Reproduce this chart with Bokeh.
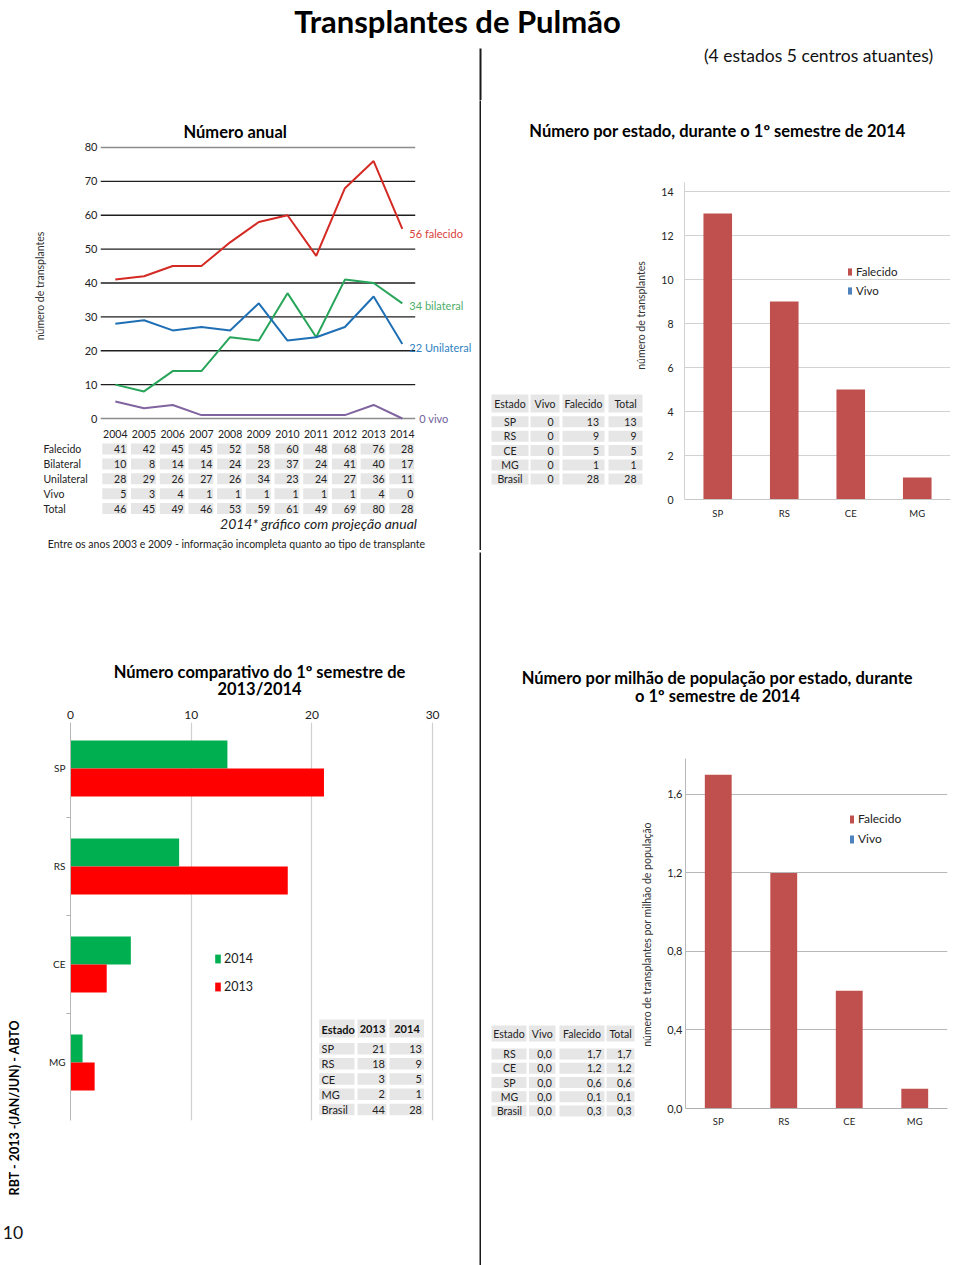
import math
from bokeh.plotting import figure
from bokeh.layouts import column, row
from bokeh.models import (Range1d, FactorRange, ColumnDataSource, Legend, LegendItem,
                          FixedTicker, CustomJSTickFormatter)
from bokeh.transform import dodge
from bokeh.core.properties import value
from bokeh.embed import file_html
from bokeh.resources import INLINE

# ---------------------------------------------------------------- data
years = [2004, 2005, 2006, 2007, 2008, 2009, 2010, 2011, 2012, 2013, 2014]
line_falecido = [41, 42, 45, 45, 52, 58, 60, 48, 68, 76, 56]
line_bilateral = [10, 8, 14, 14, 24, 23, 37, 24, 41, 40, 34]
line_unilateral = [28, 29, 26, 27, 26, 34, 23, 24, 27, 36, 22]
line_vivo = [5, 3, 4, 1, 1, 1, 1, 1, 1, 4, 0]
line_end_labels = ["56 falecido", "34 bilateral", "22 Unilateral", "0 vivo"]
annual_ticks = [0, 10, 20, 30, 40, 50, 60, 70, 80]

annual_rows = ["Falecido", "Bilateral", "Unilateral", "Vivo", "Total"]
tab_falecido = [41, 42, 45, 45, 52, 58, 60, 48, 68, 76, 28]
tab_bilateral = [10, 8, 14, 14, 24, 23, 37, 24, 41, 40, 17]
tab_unilateral = [28, 29, 26, 27, 26, 34, 23, 24, 27, 36, 11]
tab_vivo = [5, 3, 4, 1, 1, 1, 1, 1, 1, 4, 0]
tab_total = [46, 45, 49, 46, 53, 59, 61, 49, 69, 80, 28]

states = ["SP", "RS", "CE", "MG"]
state_falecido = [13, 9, 5, 1]
state_vivo = [0, 0, 0, 0]
state_ticks = [0, 2, 4, 6, 8, 10, 12, 14]
st_tab_headers = ["Estado", "Vivo", "Falecido", "Total"]
st_tab_estado = ["SP", "RS", "CE", "MG", "Brasil"]
st_tab_vivo = [0, 0, 0, 0, 0]
st_tab_falecido = [13, 9, 5, 1, 28]
st_tab_total = [13, 9, 5, 1, 28]

comp_2014 = [13, 9, 5, 1]
comp_2013 = [21, 18, 3, 2]
comp_ticks = [0, 10, 20, 30]
comp_tab_headers = ["Estado", "2013", "2014"]
comp_tab_estado = ["SP", "RS", "CE", "MG", "Brasil"]
comp_tab_2013 = [21, 18, 3, 2, 44]
comp_tab_2014 = [13, 9, 5, 1, 28]

pmp_falecido = [1.7, 1.2, 0.6, 0.1]
pmp_vivo = [0.0, 0.0, 0.0, 0.0]
pmp_ticks = [0.0, 0.4, 0.8, 1.2, 1.6]
pmp_tab_headers = ["Estado", "Vivo", "Falecido", "Total"]
pmp_tab_estado = ["RS", "CE", "SP", "MG", "Brasil"]
pmp_tab_vivo = [0.0, 0.0, 0.0, 0.0, 0.0]
pmp_tab_falecido = [1.7, 1.2, 0.6, 0.1, 0.3]
pmp_tab_total = [1.7, 1.2, 0.6, 0.1, 0.3]

# ---------------------------------------------------------------- style
FONT = "Lato"
INK = "#1a1a1a"
TXT = "#222222"
CELL = "#e6e6e6"
BAR_RED = "#c0504d"
BAR_BLUE = "#4f81bd"
GREEN = "#00b050"
RED = "#ff0000"


def comma(v):
    return f"{v:.1f}".replace(".", ",")


def page_fig(x0, x1, y0, y1):
    p = figure(width=x1 - x0, height=y1 - y0, x_range=Range1d(x0, x1),
               y_range=Range1d(y1, y0), title=None, toolbar_location=None,
               output_backend="svg", min_border=0, x_axis_type=None,
               y_axis_type=None, outline_line_color=None, frame_align=False)
    return p


def sep(w, h):
    p = figure(width=w, height=h, x_range=Range1d(0, 1), y_range=Range1d(0, 1),
               title=None, toolbar_location=None, output_backend="svg",
               min_border=0, x_axis_type=None, y_axis_type=None,
               outline_line_color=None, background_fill_color=INK,
               border_fill_color=INK, frame_align=False)
    return p


def put_text(p, xs, ys, texts, size, align="left", color=TXT, style="normal",
             angle=0.0, **kw):
    src = ColumnDataSource(dict(x=list(xs), y=list(ys), t=[str(t) for t in texts]))
    p.text(x="x", y="y", text="t", source=src, text_font=value(FONT),
           text_font_size=f"{size}px", text_align=align, text_baseline="middle",
           text_color=color, text_font_style=style, angle=angle, **kw)


def cells(p, bounds, ys, h, **kw):
    left, right, top, bottom = [], [], [], []
    for (a, b) in bounds:
        for y in ys:
            left.append(a); right.append(b)
            top.append(y - h / 2); bottom.append(y + h / 2)
    p.quad(left=left, right=right, top=top, bottom=bottom, fill_color=CELL,
           line_color=None, **kw)


def style_axis(ax, size):
    ax.major_label_text_font = FONT
    ax.major_label_text_font_size = f"{size}px"
    ax.major_label_text_color = TXT
    ax.major_tick_line_color = None
    ax.minor_tick_line_color = None
    ax.major_tick_out = 0
    ax.major_tick_in = 0


# ---------------------------------------------------------------- header
header = page_fig(0, 960, 0, 100)
put_text(header, [457], [20], ["Transplantes de Pulmão"], 31, "center", "#000000", "bold")
put_text(header, [818], [55], ["(4 estados 5 centros atuantes)"], 17.5, "center", "#111111")
header.segment(x0=[480], y0=[48], x1=[480], y1=[100], line_color=INK, line_width=2)

# ---------------------------------------------------------------- top-left: annual lines
x_start = years[0] - 0.516
tl = figure(width=479, height=326, x_range=Range1d(x_start, x_start + 375 / 28.7),
            y_range=Range1d(-2.36, 80.59), title="Número anual",
            toolbar_location=None, output_backend="svg", min_border_left=100,
            min_border_right=4, min_border_top=45, min_border_bottom=0,
            x_axis_type=None, outline_line_color=None, frame_align=False)
tl.title.text_font = FONT
tl.title.text_font_size = "16.5px"
tl.title.text_font_style = "bold"
tl.title.text_color = "#000000"
tl.title.align = "left"
tl.title.offset = 83
tl.title.standoff = 7
tl.ygrid.visible = False
ya = tl.yaxis[0]
ya.ticker = FixedTicker(ticks=annual_ticks)
style_axis(ya, 11)
ya.axis_line_color = None
ya.major_label_standoff = 3
ya.axis_label = "número de transplantes"
ya.axis_label_text_font = FONT
ya.axis_label_text_font_size = "10.5px"
ya.axis_label_text_font_style = "normal"
ya.axis_label_text_color = "#333333"
ya.axis_label_standoff = 36

gcol = ["#8c8c8c" if t in (annual_ticks[0], annual_ticks[-1]) else "#1e1e1e" for t in annual_ticks]
gsrc = ColumnDataSource(dict(y=annual_ticks, x0=[x_start] * len(annual_ticks),
                             x1=[years[-1] + 0.45] * len(annual_ticks), c=gcol))
tl.segment(x0="x0", y0="y", x1="x1", y1="y", line_color="c", line_width=1.4, source=gsrc)

series = [(line_falecido, "#d42a24", "#d9403a", 5, 7),
          (line_bilateral, "#28a55a", "#4fae6a", 2, 7),
          (line_unilateral, "#1f6fb5", "#2f7fc0", 4, 7),
          (line_vivo, "#80649f", "#6f5f99", 0, 17)]
for (vals, lc, tc, yoff, xoff), lab in zip(series, line_end_labels):
    tl.line(years, vals, line_color=lc, line_width=2)
    tl.text(x=[years[-1]], y=[vals[-1]], text=[lab], x_offset=xoff, y_offset=yoff,
            text_font=value(FONT), text_font_size="11px", text_color=tc,
            text_baseline="middle", text_align="left")

# annual table
tlt = page_fig(0, 479, 426, 550)
col_c = [114.8 + 28.7 * i for i in range(len(years))]
row_y = [448.5 + 14.9 * k for k in range(len(annual_rows))]
put_text(tlt, col_c, [433.5] * len(years), years, 10.5, "center")
put_text(tlt, [43] * len(annual_rows), row_y, annual_rows, 10.5, "left")
cells(tlt, [(c - 13, c + 12) for c in col_c], row_y, 11)
for vals, y in zip([tab_falecido, tab_bilateral, tab_unilateral, tab_vivo, tab_total], row_y):
    put_text(tlt, [c + 11 for c in col_c], [y] * len(vals), vals, 10.5, "right")
put_text(tlt, [318], [522.5], ["2014* gráfico com projeção anual"], 14, "center",
         TXT, "italic")
put_text(tlt, [236], [543.5],
         ["Entre os anos 2003 e 2009 - informação incompleta quanto ao tipo de transplante"],
         10.5, "center")

# ---------------------------------------------------------------- top-right: by state
trt = page_fig(481, 960, 100, 160)
put_text(trt, [717], [130.5], ["Número por estado, durante o 1º semestre de 2014"],
         16.5, "center", "#000000", "bold")

trl = page_fig(481, 650, 160, 550)
put_text(trl, [640], [315], ["número de transplantes"], 10.5, "center", "#333333",
         angle=math.pi / 2)
tr_bounds = [(491, 528), (530, 559), (562, 604), (608, 642)]
tr_rows = [421.3, 435.7, 450.0, 464.5, 478.5]
cells(trl, tr_bounds, [403], 18)
cells(trl, tr_bounds, tr_rows, 11)
put_text(trl, [(a + b) / 2 for a, b in tr_bounds], [403] * 4, st_tab_headers, 10.5, "center")
put_text(trl, [509.5] * 5, tr_rows, st_tab_estado, 10.5, "center")
put_text(trl, [553] * 5, tr_rows, st_tab_vivo, 10.5, "right")
put_text(trl, [598.5] * 5, tr_rows, st_tab_falecido, 10.5, "right")
put_text(trl, [636] * 5, tr_rows, st_tab_total, 10.5, "right")

trc = figure(width=310, height=390, x_range=FactorRange(*states),
             y_range=Range1d(0, 317 / 22), title=None, toolbar_location=None,
             output_backend="svg", min_border_left=34, min_border_right=10,
             min_border_top=22, min_border_bottom=51, outline_line_color=None,
             frame_align=False)
src_tr = ColumnDataSource(dict(x=states, f=state_falecido, v=state_vivo))
r_f = trc.vbar(x="x", top="f", width=0.43, source=src_tr, fill_color=BAR_RED, line_color=None)
r_v = trc.vbar(x="x", top="v", width=0.43, source=src_tr, fill_color=BAR_BLUE, line_color=None)
trc.xgrid.visible = False
trc.ygrid.ticker = FixedTicker(ticks=state_ticks)
trc.ygrid.grid_line_color = "#d2d2d2"
style_axis(trc.yaxis[0], 10.5)
trc.yaxis[0].ticker = FixedTicker(ticks=state_ticks)
trc.yaxis[0].major_label_standoff = 11
trc.yaxis[0].axis_line_color = "#d2d2d2"
style_axis(trc.xaxis[0], 9.5)
trc.xaxis[0].major_label_standoff = 8
trc.xaxis[0].axis_line_color = "#c8c8c8"
leg_tr = Legend(items=[LegendItem(label="Falecido", renderers=[r_f]),
                       LegendItem(label="Vivo", renderers=[r_v])],
                location=(163, 202), glyph_width=5, glyph_height=9, label_height=14,
                spacing=5, padding=0, margin=0, label_standoff=4,
                border_line_color=None, background_fill_alpha=0,
                label_text_font=FONT, label_text_font_size="11.5px",
                label_text_color=TXT)
trc.add_layout(leg_tr)

# ---------------------------------------------------------------- bottom-left: comparison
blt = page_fig(0, 479, 552, 700)
put_text(blt, [259, 259], [671, 688.5],
         ["Número comparativo do 1º semestre de", "2013/2014"], 16.5, "center",
         "#000000", "bold")

bls = page_fig(0, 30, 700, 1265)
put_text(bls, [13.5], [1107], ["RBT - 2013 -(JAN/JUN) - ABTO"], 12.5, "center",
         "#000000", "bold", angle=math.pi / 2)
put_text(bls, [12.5], [1232], ["10"], 17.5, "center", "#111111")

pos = [len(states) - i for i in range(len(states))]
blc = figure(width=449, height=565, x_range=Range1d(0, 375 / 12.07),
             y_range=Range1d(0.408, 4.469), x_axis_location="above", title=None,
             toolbar_location=None, output_backend="svg", min_border_left=40,
             min_border_right=34, min_border_top=22, min_border_bottom=145,
             outline_line_color=None, frame_align=False)
blc.extra_x_ranges = {"px": Range1d(70, 445)}
blc.extra_y_ranges = {"py": Range1d(1120, 722)}
src_bl = ColumnDataSource(dict(pos=pos, v14=comp_2014, v13=comp_2013))
r14 = blc.hbar(y=dodge("pos", 0.143), right="v14", left=0, height=0.286,
               source=src_bl, fill_color=GREEN, line_color=None)
r13 = blc.hbar(y=dodge("pos", -0.143), right="v13", left=0, height=0.286,
               source=src_bl, fill_color=RED, line_color=None)
blc.ygrid.visible = False
blc.xgrid.ticker = FixedTicker(ticks=comp_ticks)
blc.xgrid.grid_line_color = "#d0d0d0"
blc.xgrid.grid_line_width = 1.2
xa = blc.xaxis[0]
xa.ticker = FixedTicker(ticks=comp_ticks)
style_axis(xa, 12)
xa.axis_line_color = None
xa.major_label_standoff = 4
yb = blc.yaxis[0]
yb.ticker = FixedTicker(ticks=pos, minor_ticks=[p - 0.5 for p in pos[:-1]])
yb.major_label_overrides = {p: s for p, s in zip(pos, states)}
style_axis(yb, 10)
yb.minor_tick_line_color = "#b0b0b0"
yb.minor_tick_out = 4
yb.minor_tick_in = 0
yb.axis_line_color = "#b8b8b8"
yb.major_label_standoff = 1
leg_bl = Legend(items=[LegendItem(label="2014", renderers=[r14]),
                       LegendItem(label="2013", renderers=[r13])],
                location=(144, 126), glyph_width=7, glyph_height=11, label_height=14,
                spacing=13, padding=0, margin=0, label_standoff=3,
                border_line_color=None, background_fill_alpha=0,
                label_text_font=FONT, label_text_font_size="12.5px",
                label_text_color=TXT)
blc.add_layout(leg_bl)
# comparison table drawn inside the plot area (page-pixel extra ranges)
kw = dict(x_range_name="px", y_range_name="py")
bl_bounds = [(318.7, 354), (357, 386), (389, 423.5)]
bl_rows = [1048.3, 1063.3, 1078.5, 1093.7, 1109]
cells(blc, bl_bounds, [1028], 18, **kw)
cells(blc, bl_bounds, bl_rows, 11.5, **kw)
put_text(blc, [321], [1028.5], comp_tab_headers[:1], 11, "left", "#111111", "bold", **kw)
put_text(blc, [372, 406.5], [1028.5] * 2, comp_tab_headers[1:], 11, "center", "#111111",
         "bold", **kw)
put_text(blc, [321] * 5, bl_rows, comp_tab_estado, 11, "left", **kw)
put_text(blc, [384.5] * 5, bl_rows, comp_tab_2013, 11, "right", **kw)
put_text(blc, [421.5] * 5, bl_rows, comp_tab_2014, 11, "right", **kw)

# ---------------------------------------------------------------- bottom-right: per million
brt = page_fig(481, 960, 552, 740)
put_text(brt, [717, 717], [677.5, 695.5],
         ["Número por milhão de população por estado, durante", "o 1º semestre de 2014"],
         16.5, "center", "#000000", "bold")

brl = page_fig(481, 656, 740, 1265)
put_text(brl, [646], [934], ["número de transplantes por milhão de população"], 10.5,
         "center", "#333333", angle=math.pi / 2)
br_bounds = [(491, 526), (528.5, 555), (559, 604), (606, 634)]
br_rows = [1053.5, 1067.7, 1082.0, 1096.2, 1110.4]
cells(brl, br_bounds, [1033], 16)
cells(brl, br_bounds, br_rows, 11)
put_text(brl, [(a + b) / 2 for a, b in br_bounds], [1033] * 4, pmp_tab_headers, 10.5, "center")
put_text(brl, [509] * 5, br_rows, pmp_tab_estado, 10.5, "center")
put_text(brl, [544] * 5, br_rows, [comma(v) for v in pmp_tab_vivo], 10.5, "center")
put_text(brl, [601] * 5, br_rows, [comma(v) for v in pmp_tab_falecido], 10.5, "right")
put_text(brl, [631] * 5, br_rows, [comma(v) for v in pmp_tab_total], 10.5, "right")

brc = figure(width=304, height=525, x_range=FactorRange(*states),
             y_range=Range1d(0, 350 / 196.3), title=None, toolbar_location=None,
             output_backend="svg", min_border_left=29, min_border_right=13,
             min_border_top=18, min_border_bottom=157, outline_line_color=None,
             frame_align=False)
src_br = ColumnDataSource(dict(x=states, f=pmp_falecido, v=pmp_vivo))
rb_f = brc.vbar(x="x", top="f", width=0.41, source=src_br, fill_color=BAR_RED, line_color=None)
rb_v = brc.vbar(x="x", top="v", width=0.41, source=src_br, fill_color=BAR_BLUE, line_color=None)
brc.xgrid.visible = False
brc.ygrid.ticker = FixedTicker(ticks=pmp_ticks)
brc.ygrid.grid_line_color = "#b8b8b8"
yr = brc.yaxis[0]
yr.ticker = FixedTicker(ticks=pmp_ticks)
yr.formatter = CustomJSTickFormatter(code="return tick.toFixed(1).replace('.', ',');")
style_axis(yr, 11)
yr.major_label_standoff = 3
yr.axis_line_color = "#b8b8b8"
style_axis(brc.xaxis[0], 9.5)
brc.xaxis[0].major_label_standoff = 7
brc.xaxis[0].axis_line_color = "#b0b0b0"
leg_br = Legend(items=[LegendItem(label="Falecido", renderers=[rb_f]),
                       LegendItem(label="Vivo", renderers=[rb_v])],
                location=(164, 262), glyph_width=5, glyph_height=10, label_height=14,
                spacing=5, padding=0, margin=0, label_standoff=4,
                border_line_color=None, background_fill_alpha=0,
                label_text_font=FONT, label_text_font_size="12px",
                label_text_color=TXT)
brc.add_layout(leg_br)

# ---------------------------------------------------------------- page
page = column(
    header,
    row(column(tl, tlt), sep(2, 450), column(trt, row(trl, trc))),
    sep(960, 2),
    row(column(blt, row(bls, blc)), sep(2, 713), column(brt, row(brl, brc))),
)

open("out.html", "w").write(file_html(page, INLINE, "Transplantes de Pulmão"))
